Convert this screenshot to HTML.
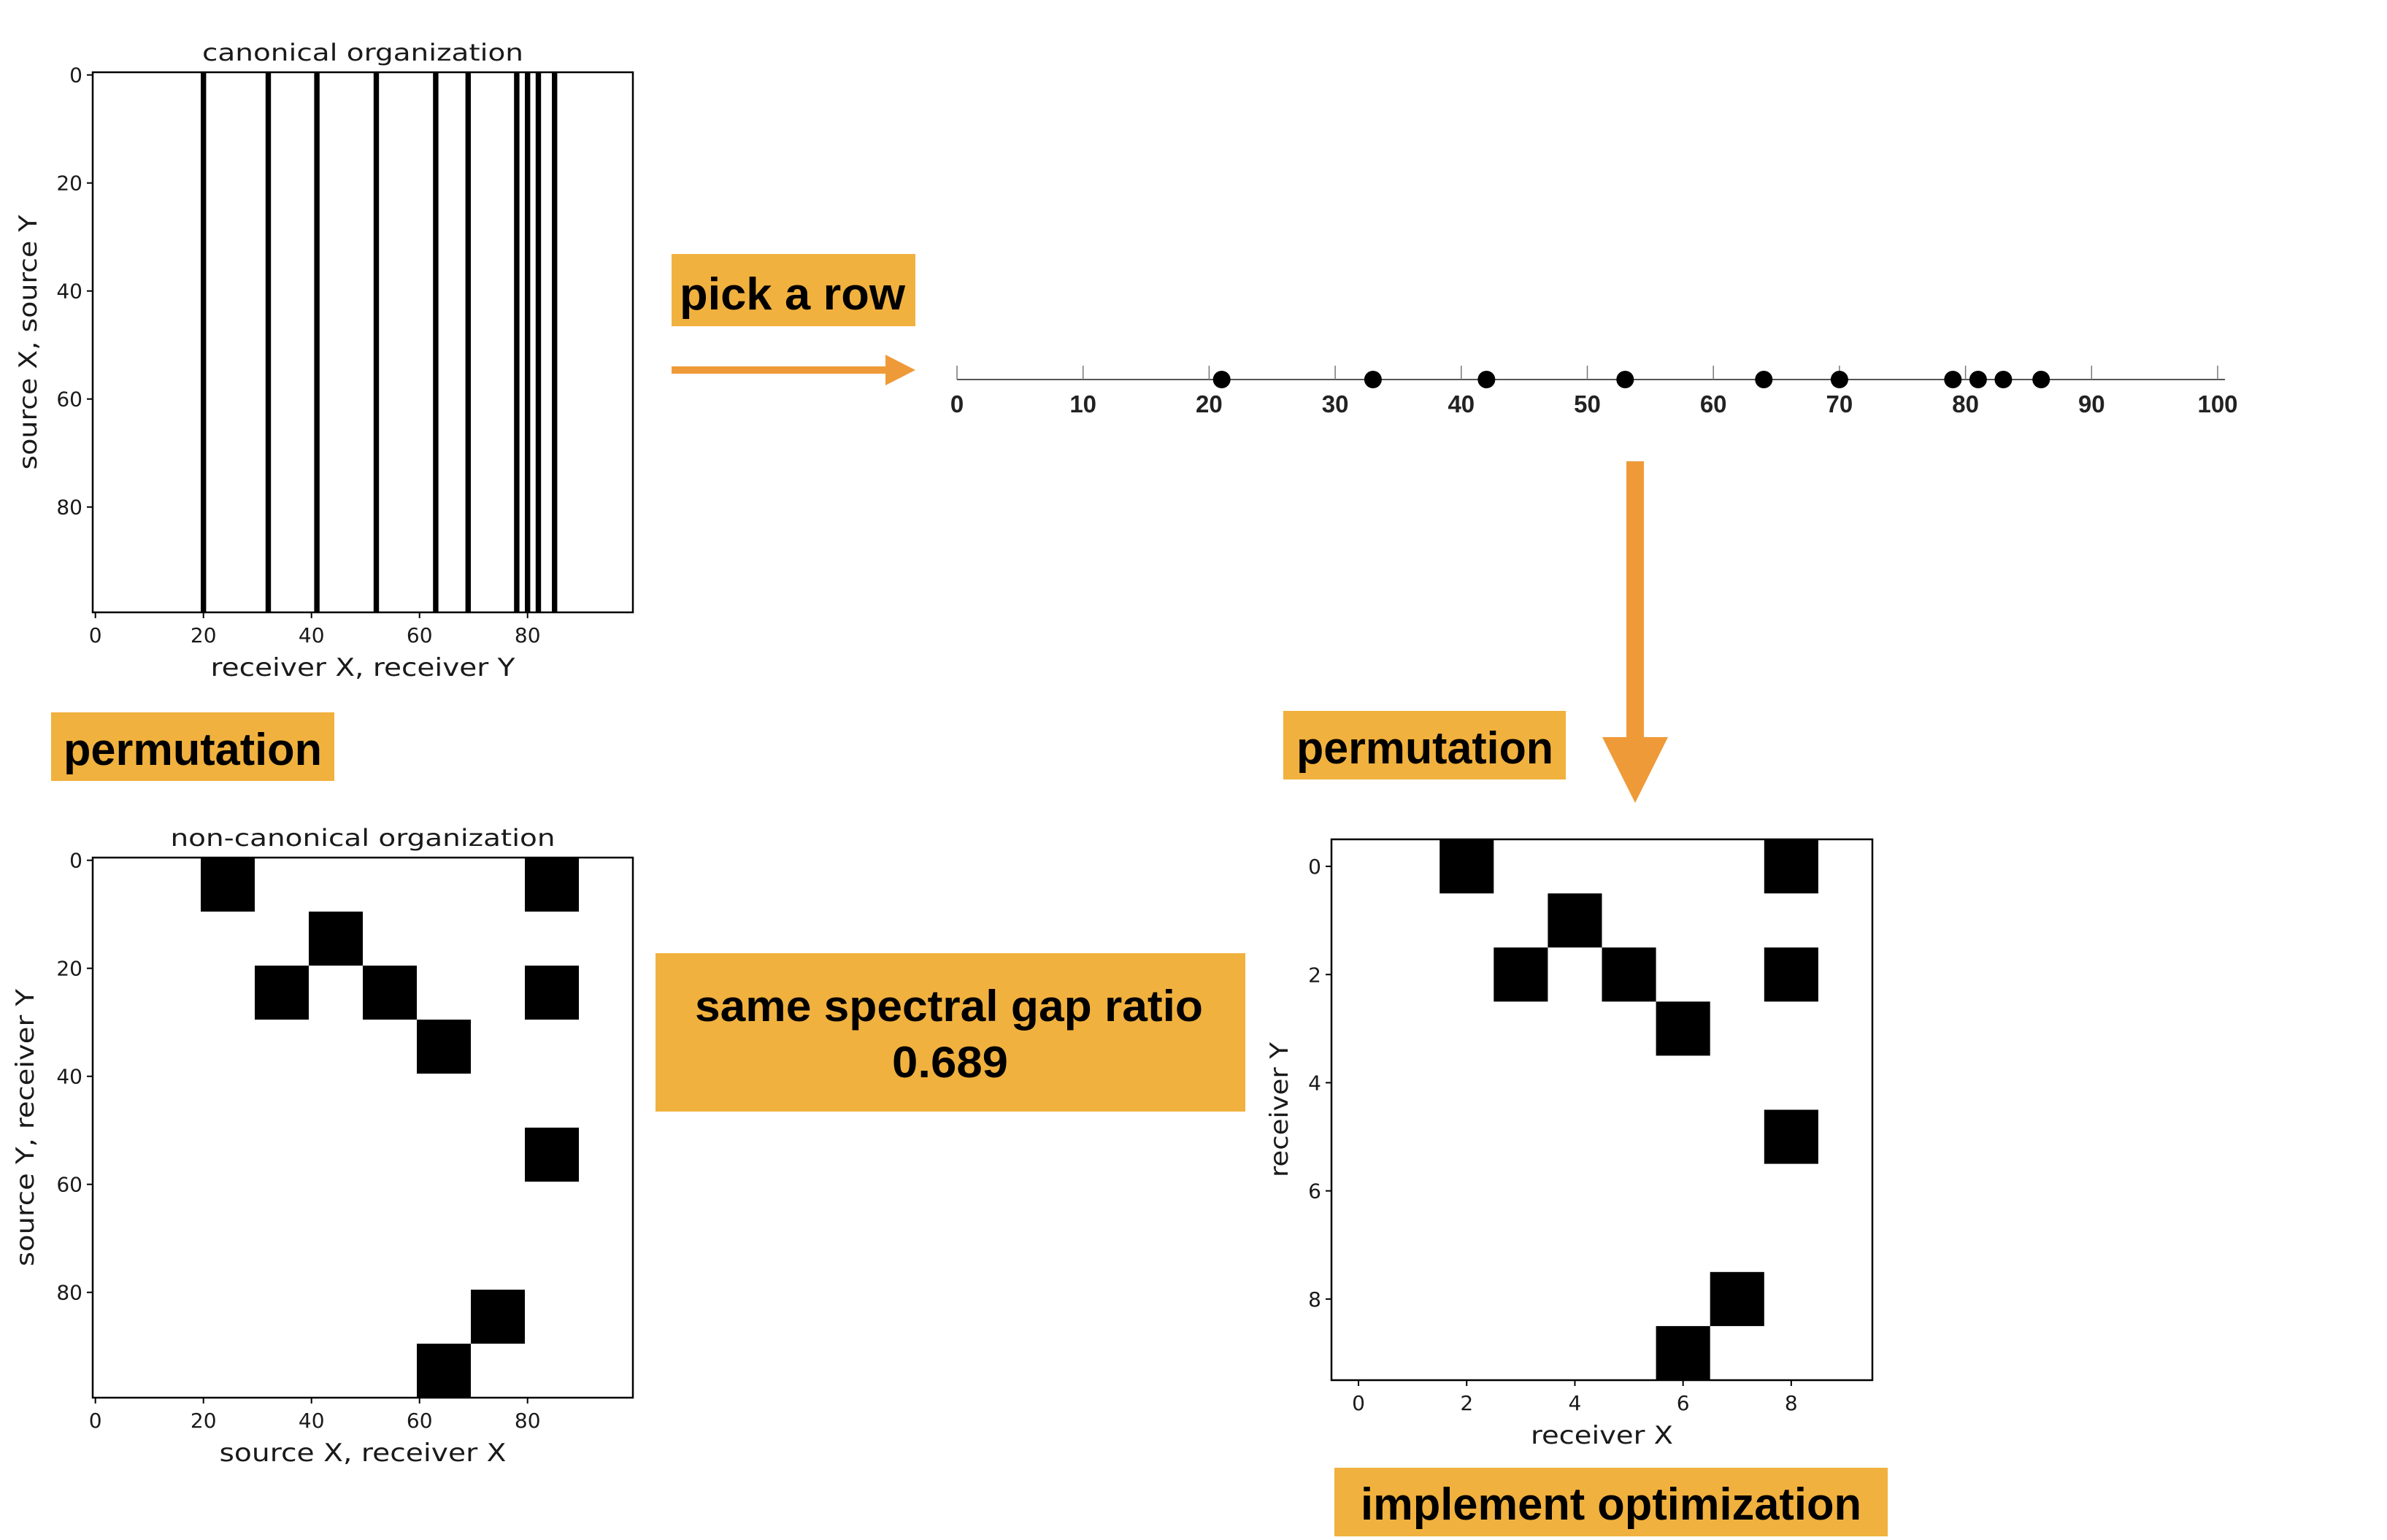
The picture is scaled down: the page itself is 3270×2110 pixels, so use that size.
<!DOCTYPE html>
<html><head><meta charset="utf-8"><style>
html,body{margin:0;padding:0;background:#fff;}
svg{display:block;}
.mpl{font-family:"DejaVu Sans","Liberation Sans",sans-serif;fill:#1a1a1a;}
.lbl{font-family:"Liberation Sans",sans-serif;font-weight:bold;fill:#000;}
</style></head><body>
<svg id="fig" width="3270" height="2110" viewBox="0 0 3270 2110" xmlns="http://www.w3.org/2000/svg">
<rect width="3270" height="2110" fill="#fff"/>
<g id="g-top"></g>
<g id="g-bl"></g>
<g id="g-br"></g>
<g id="g-line"></g>

<rect x="920" y="348" width="334" height="99" fill="#f1b13e"/>
<text class="lbl" x="931" y="424" font-size="62" textLength="309" lengthAdjust="spacingAndGlyphs">pick a row</text>
<g>
<rect x="920" y="502" width="295" height="10" fill="#ef9a38"/>
<polygon points="1213,486 1254,507 1213,528" fill="#ef9a38"/>
</g>
<g>
<rect x="2228" y="632" width="24" height="380" fill="#ef9a38"/>
<polygon points="2195,1010 2285,1010 2240,1100" fill="#ef9a38"/>
</g>
<rect x="70" y="976" width="388" height="94" fill="#f1b13e"/>
<text class="lbl" x="87" y="1048" font-size="62" textLength="354" lengthAdjust="spacingAndGlyphs">permutation</text>
<rect x="1758" y="974" width="387" height="94" fill="#f1b13e"/>
<text class="lbl" x="1776" y="1046" font-size="62" textLength="352" lengthAdjust="spacingAndGlyphs">permutation</text>
<rect x="898" y="1306" width="808" height="217" fill="#f1b13e"/>
<text class="lbl" x="952" y="1399" font-size="60" textLength="696" lengthAdjust="spacingAndGlyphs">same spectral gap ratio</text>
<text class="lbl" x="1222" y="1476" font-size="60" textLength="159" lengthAdjust="spacingAndGlyphs">0.689</text>
<rect x="1828" y="2011" width="758" height="94" fill="#f1b13e"/>
<text class="lbl" x="1864" y="2082" font-size="62" textLength="686" lengthAdjust="spacingAndGlyphs">implement optimization</text>
</svg>
<script>
// canonical organization: columns that are filled
const canonCols = [20, 32, 41, 52, 63, 69, 78, 80, 82, 85];
// picked row positions on number line
const rowPoints = [21, 33, 42, 53, 64, 70, 79, 81, 83, 86];
const lineTicks = [0, 10, 20, 30, 40, 50, 60, 70, 80, 90, 100];
// 10x10 block pattern: rows and columns of filled cells
const blockRows = [0, 0, 1, 2, 2, 2, 3, 5, 8, 9];
const blockCols = [2, 8, 4, 3, 5, 8, 6, 8, 7, 6];
const bigTicks = [0, 20, 40, 60, 80];
const smallTicks = [0, 2, 4, 6, 8];

const NS = 'http://www.w3.org/2000/svg';
function mk(parent, tag, attrs, txt) {
  const e = document.createElementNS(NS, tag);
  for (const k in attrs) e.setAttribute(k, attrs[k]);
  if (txt !== undefined) e.textContent = txt;
  parent.appendChild(e);
  return e;
}
function axisFns(x0, y0, size, n) {
  const s = size / n;
  return { sx: v => x0 + (v + 0.5) * s, sy: v => y0 + (v + 0.5) * s, s: s };
}
function frame(g, x0, y0, size, n, xt, yt, title, xl, yl, tw, xw, yw) {
  const a = axisFns(x0, y0, size, n);
  mk(g, 'rect', {x: x0, y: y0, width: size, height: size, fill: 'none', stroke: '#000', 'stroke-width': 2.5});
  xt.forEach(v => {
    const X = a.sx(v);
    const t = mk(g, 'line', {x1: X, x2: X, y1: y0 + size, y2: y0 + size + 8, stroke: '#000', 'stroke-width': 2});
    
    
    const l = mk(g, 'text', {x: X, y: y0 + size + 41, 'font-size': 28, 'text-anchor': 'middle', class: 'mpl'}, v);
    
    
  });
  yt.forEach(v => {
    const Y = a.sy(v);
    const t = mk(g, 'line', {x1: x0 - 8, x2: x0, y1: Y, y2: Y, stroke: '#000', 'stroke-width': 2});
    
    
    const l = mk(g, 'text', {x: x0 - 14, y: Y + 10, 'font-size': 28, 'text-anchor': 'end', class: 'mpl'}, v);
    
    
  });
  if (title) {
    const t = mk(g, 'text', {x: x0 + size / 2, y: y0 - 16, 'font-size': 32, 'text-anchor': 'middle', class: 'mpl', textLength: tw, lengthAdjust: 'spacingAndGlyphs'}, title);
    
    
  }
  const xlab = mk(g, 'text', {x: x0 + size / 2, y: y0 + size + 87, 'font-size': 34, 'text-anchor': 'middle', class: 'mpl', textLength: xw, lengthAdjust: 'spacingAndGlyphs'}, xl);
  
  
  const cy = y0 + size / 2, cx = yl[1];
  const ylab = mk(g, 'text', {x: cx, y: cy, 'font-size': 34, 'text-anchor': 'middle', class: 'mpl', transform: 'rotate(-90 ' + cx + ' ' + cy + ')', textLength: yw, lengthAdjust: 'spacingAndGlyphs'}, yl[0]);
  
  
  return a;
}

// Top plot
(function () {
  const g = document.getElementById('g-top');
  const x0 = 127, y0 = 99, S = 740, N = 100;
  const a = axisFns(x0, y0, S, N);
  canonCols.forEach(c => {
    const r = mk(g, 'rect', {x: a.sx(c) - a.s / 2, y: y0, width: a.s, height: S, fill: '#000'});
    
    
  });
  frame(g, x0, y0, S, N, bigTicks, bigTicks, 'canonical organization', 'receiver X, receiver Y', ['source X, source Y', 50], 440, 417, 349);
})();

// Bottom-left plot
(function () {
  const g = document.getElementById('g-bl');
  const x0 = 127, y0 = 1175, S = 740, N = 100;
  const a = axisFns(x0, y0, S, N);
  blockRows.forEach((r, i) => {
    const c = blockCols[i];
    const b = mk(g, 'rect', {x: a.sx(c * 10) - a.s / 2, y: a.sy(r * 10) - a.s / 2, width: a.s * 10, height: a.s * 10, fill: '#000'});
    
    
  });
  frame(g, x0, y0, S, N, bigTicks, bigTicks, 'non-canonical organization', 'source X, receiver X', ['source Y, receiver Y', 46], 527, 393, 380);
})();

// Bottom-right plot
(function () {
  const g = document.getElementById('g-br');
  const x0 = 1824, y0 = 1150, S = 741, N = 10;
  const a = axisFns(x0, y0, S, N);
  blockRows.forEach((r, i) => {
    const c = blockCols[i];
    const b = mk(g, 'rect', {x: a.sx(c) - a.s / 2, y: a.sy(r) - a.s / 2, width: a.s, height: a.s, fill: '#000'});
    
    
  });
  frame(g, x0, y0, S, N, smallTicks, smallTicks, null, 'receiver X', ['receiver Y', 1764], 0, 195, 185);
})();

// Number line
(function () {
  const g = document.getElementById('g-line');
  const lx = v => 1311 + v * 17.27;
  const Y = 520;
  const base = mk(g, 'line', {x1: lx(0), x2: lx(100) + 10, y1: Y, y2: Y, stroke: '#555', 'stroke-width': 2});
  
  
  lineTicks.forEach(v => {
    const t = mk(g, 'line', {x1: lx(v), x2: lx(v), y1: Y - 19, y2: Y, stroke: '#777', 'stroke-width': 1.5});
    
    
    const l = mk(g, 'text', {x: lx(v), y: Y + 45, 'font-size': 33, 'font-weight': 'bold', 'text-anchor': 'middle', 'font-family': 'Liberation Sans, sans-serif', fill: '#222'}, v);
    
    
  });
  rowPoints.forEach(v => {
    const c = mk(g, 'circle', {cx: lx(v), cy: Y, r: 12, fill: '#000'});
    
    
  });
})();
</script>
</body></html>
